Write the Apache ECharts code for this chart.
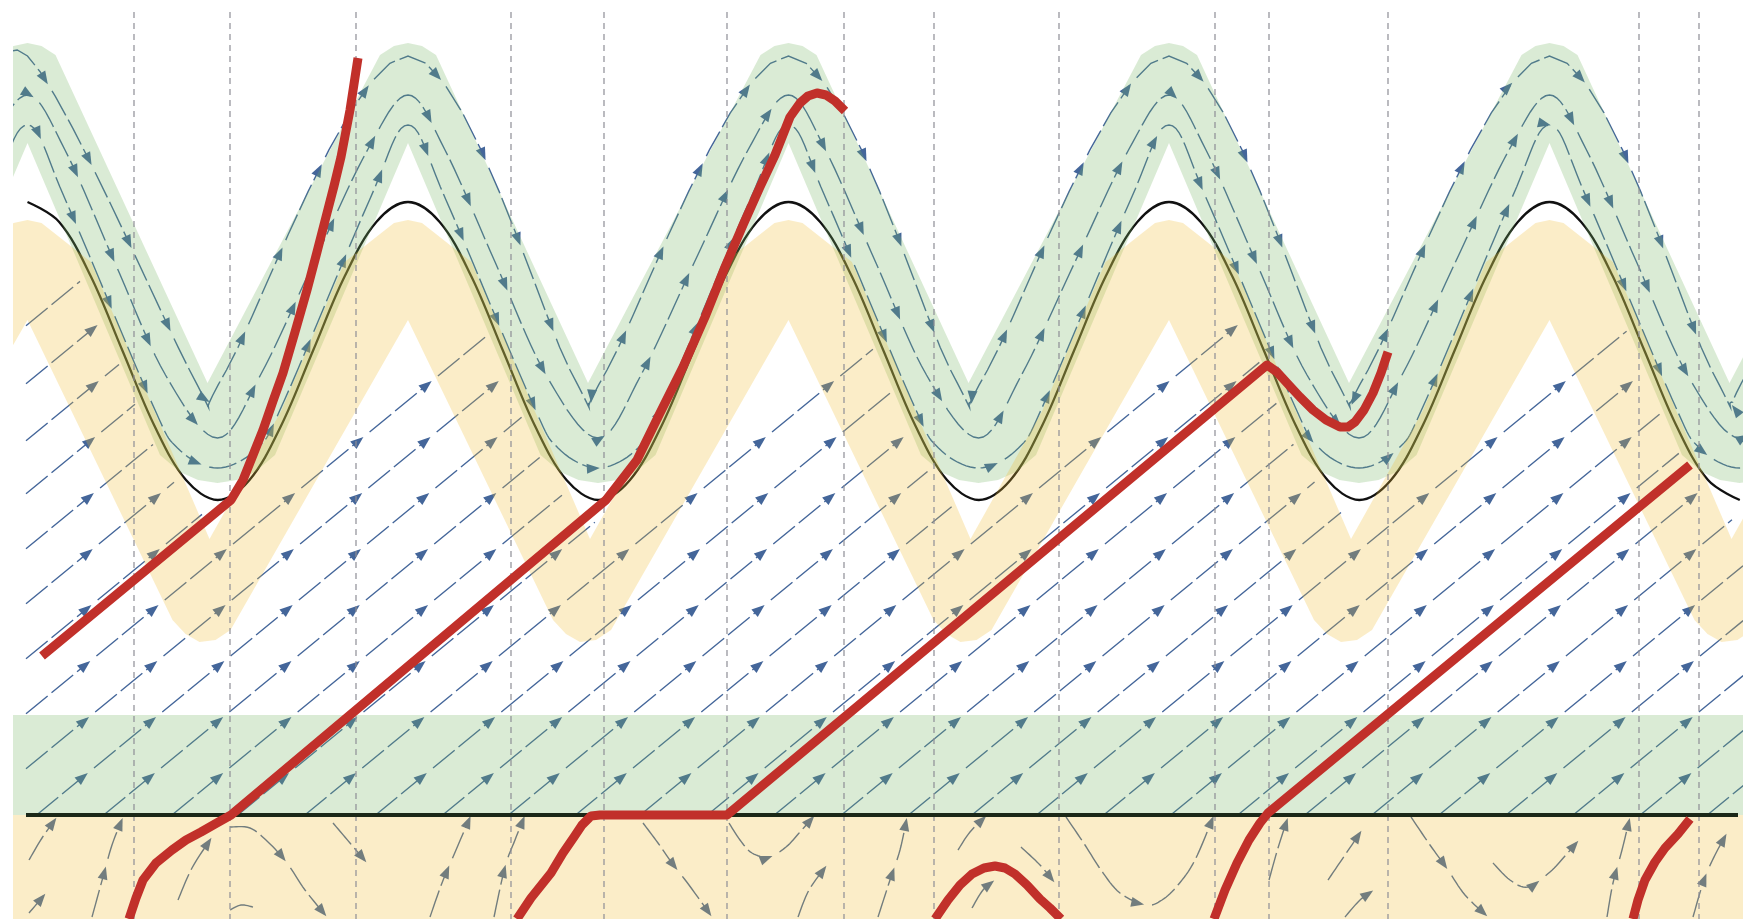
<!DOCTYPE html>
<html>
<head>
<meta charset="utf-8">
<script src="https://cdn.jsdelivr.net/npm/echarts@6/dist/echarts.min.js"></script>
<style>
  html, body { margin: 0; padding: 0; background: #ffffff; }
  #chart { width: 1743px; height: 919px; }
</style>
</head>
<body>
<div id="chart"></div>
<script>
// ---------------------------------------------------------------
// Phase portrait: plot units run x 13..1743, y 0..919 (y downward)
// ---------------------------------------------------------------

// sinusoidal nullcline, sampled every 30 degrees of phase
const sineX = [27.5,59.2,90.9,122.6,154.3,186.0,217.8,249.5,281.2,312.9,344.6,376.3,
  408.0,439.7,471.4,503.1,534.8,566.5,598.3,630.0,661.7,693.4,725.1,756.8,
  788.5,820.2,851.9,883.6,915.3,947.0,978.8,1010.5,1042.2,1073.9,1105.6,1137.3,
  1169.0,1200.7,1232.4,1264.1,1295.8,1327.5,1359.3,1391.0,1422.7,1454.4,1486.1,1517.8,
  1549.5,1581.2,1612.9,1644.6,1676.3,1708.0,1739.8];
const sineY = [202,222,276.5,351,425.5,480,500,480,425.5,351,276.5,222,
  202,222,276.5,351,425.5,480,500,480,425.5,351,276.5,222,
  202,222,276.5,351,425.5,480,500,480,425.5,351,276.5,222,
  202,222,276.5,351,425.5,480,500,480,425.5,351,276.5,222,
  202,222,276.5,351,425.5,480,500];

// green wave band: upper and lower outlines
const greenTop = [[-173,383],[-0.5,55],[13.5,46],[27.5,43],[41.5,46],[55.5,55],[207.5,383],
  [380,55],[394,46],[408,43],[422,46],[436,55],[588,383],
  [760.5,55],[774.5,46],[788.5,43],[802.5,46],[816.5,55],[968.5,383],
  [1141,55],[1155,46],[1169,43],[1183,46],[1197,55],[1349,383],
  [1521.5,55],[1535.5,46],[1549.5,43],[1563.5,46],[1577.5,55],[1729.5,383],[1902,55]];
const greenBottom = [[-105.5,455],
  [27.5,143],[160,455],[180,472],[198,480],[217.5,483],[237,480],[255,472],[275,455],
  [408,143],[540.5,455],[560.5,472],[578.5,480],[598,483],[617.5,480],[635.5,472],[655.5,455],
  [788.5,143],[921,455],[941,472],[959,480],[978.5,483],[998,480],[1016,472],[1036,455],
  [1169,143],[1301.5,455],[1321.5,472],[1339.5,480],[1359,483],[1378.5,480],[1396.5,472],[1416.5,455],
  [1549.5,143],[1682,455],[1702,472],[1720,480],[1739.5,483],[1759,480],[1777,472],[1797,455]];

// yellow wave band: upper and lower outlines
const yellowTop = [[-67.6,336],[-35.9,262],[-0.5,234],[13.5,223],[27.5,220],[41.5,223],[55.5,234],
  [90.9,262],[122.6,336],[154.3,411],[209.5,539],[281.2,411],[312.9,336],[344.6,262],
  [380,234],[394,223],[408,220],[422,223],[436,234],
  [471.4,262],[503.1,336],[534.8,411],[590,539],[661.7,411],[693.4,336],[725.1,262],
  [760.5,234],[774.5,223],[788.5,220],[802.5,223],[816.5,234],
  [851.9,262],[883.6,336],[915.3,411],[970.5,539],[1042.2,411],[1073.9,336],[1105.6,262],
  [1141,234],[1155,223],[1169,220],[1183,223],[1197,234],
  [1232.4,262],[1264.1,336],[1295.8,411],[1351,539],[1422.7,411],[1454.4,336],[1486.1,262],
  [1521.5,234],[1535.5,223],[1549.5,220],[1563.5,223],[1577.5,234],
  [1612.9,262],[1644.6,336],[1676.3,411],[1731.5,539],[1803.2,411]];
const yellowBottom = [[-150,630],
  [27.5,320],[172.5,620],[185.5,634],[199.5,642],[215.5,640],[230.5,630],
  [408,320],[553,620],[566,634],[580,642],[596,640],[611,630],
  [788.5,320],[933.5,620],[946.5,634],[960.5,642],[976.5,640],[991.5,630],
  [1169,320],[1314,620],[1327,634],[1341,642],[1357,640],[1372,630],
  [1549.5,320],[1694.5,620],[1707.5,634],[1721.5,642],[1737.5,640],[1752.5,630],[1930,320]];

// streamlines carried along the green band (upper, middle, lower)
const bandStreamTop = [[-30,160],[27.5,56],[189.5,370],[209.5,402],[226.5,370],
  [408,56],[570,370],[590,402],[607,370],
  [788.5,56],[950.5,370],[970.5,402],[987.5,370],
  [1169,56],[1331,370],[1351,402],[1368,370],
  [1549.5,56],[1711.5,370],[1731.5,402],[1748.5,370],[1900,100]];
const bandStreamMid = [[-67,263],[-13,150],[27.5,95],[65,150],[115,263],[165.5,375],[217.5,438],[260.5,375],[313.5,263],[367.5,150],
  [408,95],[445,150],[495.5,263],[546,375],[598,438],[641,375],[694,263],[748,150],
  [788.5,95],[825.5,150],[876,263],[926.5,375],[978.5,438],[1021.5,375],[1074.5,263],[1128.5,150],
  [1169,95],[1206,150],[1256.5,263],[1307,375],[1359,438],[1402,375],[1455,263],[1509,150],
  [1549.5,95],[1586.5,150],[1637,263],[1687.5,375],[1739.5,438],[1782.5,375],[1835.5,263]];
const bandStreamLow = [[-96,400],[-11,200],[27.5,125],[65.5,200],[150.5,400],[177.5,448],[217.5,468],[257.5,448],[284.5,400],[369.5,200],
  [408,125],[446,200],[531,400],[558,448],[598,468],[638,448],[665,400],[750,200],
  [788.5,125],[826.5,200],[911.5,400],[938.5,448],[978.5,468],[1018.5,448],[1045.5,400],[1130.5,200],
  [1169,125],[1207,200],[1292,400],[1319,448],[1359,468],[1399,448],[1426,400],[1511,200],
  [1549.5,125],[1587.5,200],[1672.5,400],[1699.5,448],[1739.5,468],[1779.5,448],[1806.5,400]];

// flat shaded strips: [top, bottom, kind]
const strips = [[715, 815, 0], [815, 919, 1]];

// horizontal nullcline
const baseLine = [[26, 815], [1738, 815]];

// vertical guide lines
const guideX = [134, 230, 356, 511, 604, 727, 844, 934, 1059, 1215, 1269, 1388, 1639, 1699];

// trajectories
const trajA = [[42,656],[231,500],[243,480],[253,455],[263,430],[273,401],[283,373],[295,332],[307,290],[317,252],[327,213],[334,186],[341,157],[350,110],[358,58]];
const trajB = [[129,919],[136,898],[143,880],[156,863],[172,850],[186,840],[201,832],[215,824],[231,815],[606,500],[620,482],[637,460],[660,413],[683,367],[705,317],[725,267],[743,225],[760,187],[775,155],[790,117],[800,103],[808,96],[817,93],[826,95],[835,101],[845,111]];
const trajC = [[517,919],[531,898],[551,873],[563,853],[574,837],[582,825],[591,816],[600,815],[727,815],[1267,365],[1277,372],[1287,383],[1300,397],[1313,410],[1326,420],[1340,427],[1348,427],[1355,422],[1364,410],[1373,393],[1381,373],[1388,352]];
const trajD = [[935,919],[948,900],[960,885],[972,874],[984,868],[995,866],[1005,868],[1015,874],[1027,885],[1040,899],[1050,908],[1061,919]];
const trajE = [[1214,919],[1225,890],[1237,863],[1249,840],[1260,823],[1268,813],[1690,465]];
const trajF = [[1633,919],[1638,900],[1645,880],[1655,862],[1665,848],[1678,834],[1690,819]];

// uniform flow below the nullcline: direction and line intercepts (y at x = 0)
const fieldSlope = 0.82;
const fieldIntercepts = [347,405,462,515,570,625,680,735,790,845,900,956,1010,1065,1123,1178,1232,1287,1340,1395,
  1450,1505,1560,1612,1665,1720,1775,1830,1885,1940,1995,2050,2105,2160,2215];

// streamlines under the horizontal nullcline
const lowerStreams = [
  [[29,860],[42,838],[57,817]],
  [[29,913],[46,893]],
  [[92,917],[103,877],[112,845],[123,817]],
  [[178,900],[192,868],[212,837]],
  [[230,827],[250,828],[268,842],[287,863],[305,890],[327,917]],
  [[230,910],[241,905],[253,907]],
  [[333,823],[350,843],[367,863]],
  [[430,917],[442,883],[456,850],[471,815]],
  [[494,917],[505,867],[515,840],[525,815]],
  [[643,823],[658,843],[672,863],[689,885],[712,917]],
  [[729,823],[740,840],[752,853],[769,857],[786,847],[800,832],[815,815]],
  [[798,917],[809,890],[827,865]],
  [[878,917],[890,880],[900,850],[907,817]],
  [[958,850],[970,832],[987,815]],
  [[1021,847],[1040,865],[1055,883]],
  [[972,908],[983,890],[995,880]],
  [[1066,817],[1085,845],[1101,870],[1120,893],[1146,905],[1162,900],[1178,885],[1195,860],[1214,815]],
  [[1269,880],[1278,848],[1288,817]],
  [[1328,880],[1345,855],[1362,830]],
  [[1345,917],[1360,900],[1374,890]],
  [[1411,817],[1430,845],[1448,870],[1465,895],[1488,917]],
  [[1493,863],[1510,880],[1528,887],[1550,872],[1565,856],[1579,840]],
  [[1607,917],[1613,883],[1622,850],[1630,817]],
  [[1693,917],[1704,880],[1715,855],[1727,833]]
];

// ---------------------------------------------------------------
// drawing helpers
// ---------------------------------------------------------------
const ARROW = '#44669a';
const GREEN_FILL = 'rgba(120,180,100,0.27)';
const YELLOW_FILL = 'rgba(240,190,50,0.27)';
const RED = '#c1302a';

const sineCurve = sineX.map((x, i) => [x, sineY[i]]);
const bandStreams = [bandStreamTop, bandStreamMid, bandStreamLow];
const waveBands = [[greenTop, greenBottom, GREEN_FILL], [yellowTop, yellowBottom, YELLOW_FILL]];

function sineAt(x) {
  for (let i = 1; i < sineCurve.length; i++) {
    const a = sineCurve[i - 1], b = sineCurve[i];
    if (x <= b[0]) {
      const t = (x - a[0]) / (b[0] - a[0]);
      return a[1] + (b[1] - a[1]) * Math.max(0, Math.min(1, t));
    }
  }
  return sineCurve[sineCurve.length - 1][1];
}

function cumLen(poly) {
  const c = [0];
  for (let i = 1; i < poly.length; i++) {
    c.push(c[i - 1] + Math.hypot(poly[i][0] - poly[i - 1][0], poly[i][1] - poly[i - 1][1]));
  }
  return c;
}
function at(poly, cum, s) {
  s = Math.max(0, Math.min(s, cum[cum.length - 1]));
  let i = 1;
  while (i < cum.length - 1 && cum[i] < s) i++;
  const seg = (cum[i] - cum[i - 1]) || 1, t = (s - cum[i - 1]) / seg;
  const a = poly[i - 1], b = poly[i];
  return { x: a[0] + (b[0] - a[0]) * t, y: a[1] + (b[1] - a[1]) * t, ang: Math.atan2(b[1] - a[1], b[0] - a[0]) };
}
function slice(poly, cum, s0, s1) {
  const out = [];
  const p0 = at(poly, cum, s0);
  out.push([p0.x, p0.y]);
  for (let i = 0; i < cum.length; i++) if (cum[i] > s0 && cum[i] < s1) out.push(poly[i]);
  const p1 = at(poly, cum, s1);
  out.push([p1.x, p1.y]);
  return out;
}
function arrowHead(p, color) {
  const L = 13, W = 5, c = Math.cos(p.ang), s = Math.sin(p.ang);
  const bx = p.x - L * c, by = p.y - L * s;
  return {
    type: 'polygon',
    shape: { points: [[p.x, p.y], [bx - W * s, by + W * c], [bx + W * s, by - W * c]] },
    style: { fill: color }
  };
}
function streamGroup(poly, heads, color) {
  const cum = cumLen(poly), total = cum[cum.length - 1];
  const kids = [];
  const st = { stroke: color, lineWidth: 1.4, fill: null, lineDash: [28, 5] };
  let from = 0;
  heads.forEach(h => {
    if (h - from > 6) kids.push({ type: 'polyline', shape: { points: slice(poly, cum, from, h - 3) }, style: st });
    kids.push(arrowHead(at(poly, cum, h), color));
    from = h + 8;
  });
  if (total - from > 6) kids.push({ type: 'polyline', shape: { points: slice(poly, cum, from, total) }, style: st });
  return { type: 'group', children: kids };
}
function catmull(pts, steps) {
  const out = [];
  for (let i = 0; i < pts.length - 1; i++) {
    const p0 = pts[Math.max(i - 1, 0)], p1 = pts[i], p2 = pts[i + 1], p3 = pts[Math.min(i + 2, pts.length - 1)];
    for (let k = 0; k < steps; k++) {
      const t = k / steps, t2 = t * t, t3 = t2 * t;
      const f = j => 0.5 * ((2 * p1[j]) + (-p0[j] + p2[j]) * t + (2 * p0[j] - 5 * p1[j] + 4 * p2[j] - p3[j]) * t2 + (-p0[j] + 3 * p1[j] - 3 * p2[j] + p3[j]) * t3);
      out.push([f(0), f(1)]);
    }
  }
  out.push(pts[pts.length - 1]);
  return out;
}

// straight streamline for intercept c: from the left edge or the horizontal nullcline up to the sinusoid
function straightStream(c) {
  let x0 = 26;
  if (c - fieldSlope * x0 > 815) x0 = (c - 815) / fieldSlope;
  if (x0 >= 1743) return null;
  let x = x0;
  while (x < 1743) {
    const y = c - fieldSlope * x;
    if (y < sineAt(x) + 25 || y < 0) break;
    x += 1;
  }
  if (x - x0 < 8) return null;
  return [[x0, c - fieldSlope * x0], [x, c - fieldSlope * x]];
}

const ROW_Y0 = 493, ROW_STEP = 56;

const option = {
  animation: false,
  backgroundColor: '#ffffff',
  grid: { left: 13, right: 0, top: 0, bottom: 0 },
  xAxis: { type: 'value', min: 13, max: 1743, show: false },
  yAxis: { type: 'value', min: 0, max: 919, inverse: true, show: false },
  series: [
    {
      name: 'uniform flow', type: 'custom', z: 2, clip: true, silent: true,
      data: fieldIntercepts.map((_, i) => [i]),
      renderItem: (params, api) => {
        const seg = straightStream(fieldIntercepts[api.value(0)]);
        if (!seg) return null;
        const p0 = api.coord(seg[0]), p1 = api.coord(seg[1]);
        const len = Math.hypot(p1[0] - p0[0], p1[1] - p0[1]);
        const heads = [];
        for (let k = -12; k < 12; k++) {
          const ry = ROW_Y0 + k * ROW_STEP;
          if (ry < seg[0][1] - 18 && ry > seg[1][1]) heads.push((seg[0][1] - ry) / (seg[0][1] - seg[1][1]) * len);
        }
        heads.sort((a, b) => a - b);
        return streamGroup([p0, p1], heads, ARROW);
      }
    },
    {
      name: 'band flow', type: 'custom', z: 2, clip: true, silent: true,
      data: [[0], [1], [2]],
      renderItem: (params, api) => {
        const i = api.value(0);
        const poly = catmull(bandStreams[i].map(p => api.coord(p)), 10);
        const total = cumLen(poly).slice(-1)[0];
        const heads = [];
        for (let s = 80 + i * 30; s < total; s += 92) heads.push(s);
        return streamGroup(poly, heads, ARROW);
      }
    },
    {
      name: 'lower flow', type: 'custom', z: 2, clip: true, silent: true,
      data: lowerStreams.map((_, i) => [i]),
      renderItem: (params, api) => {
        const src = lowerStreams[api.value(0)];
        const poly = catmull(src.map(p => api.coord(p)), 8);
        const total = cumLen(poly).slice(-1)[0];
        const heads = total > 90 ? [total * 0.5, total - 1] : (total > 25 ? [total - 1] : []);
        return streamGroup(poly, heads, ARROW);
      }
    },
    {
      name: 'sinusoid', type: 'line', z: 3, data: sineCurve, smooth: 0.35, symbol: 'none', silent: true,
      lineStyle: { color: '#111111', width: 2.3 }
    },
    {
      name: 'flat strips', type: 'custom', z: 4, clip: true, silent: true,
      data: strips,
      renderItem: (params, api) => {
        const a = api.coord([13, api.value(0)]), b = api.coord([1743, api.value(1)]);
        return {
          type: 'rect',
          shape: { x: a[0], y: a[1], width: b[0] - a[0], height: b[1] - a[1] },
          style: { fill: api.value(2) === 0 ? GREEN_FILL : YELLOW_FILL }
        };
      }
    },
    {
      name: 'wave bands', type: 'custom', z: 4, clip: true, silent: true,
      data: [[0], [1]],
      renderItem: (params, api) => {
        const band = waveBands[api.value(0)];
        const pts = band[0].map(p => api.coord(p)).concat(band[1].slice().reverse().map(p => api.coord(p)));
        return { type: 'polygon', shape: { points: pts }, style: { fill: band[2] } };
      }
    },
    {
      name: 'guides', type: 'custom', z: 5, clip: true, silent: true,
      data: guideX.map(x => [x]),
      renderItem: (params, api) => {
        const a = api.coord([api.value(0), 12]), b = api.coord([api.value(0), 919]);
        return {
          type: 'line',
          shape: { x1: a[0], y1: a[1], x2: b[0], y2: b[1] },
          style: { stroke: '#8e8e96', lineWidth: 1.2, lineDash: [6, 5] }
        };
      }
    },
    {
      name: 'horizontal nullcline', type: 'line', z: 5, data: baseLine, symbol: 'none', silent: true,
      lineStyle: { color: '#1b2818', width: 4 }
    }
  ].concat([trajA, trajB, trajC, trajD, trajE, trajF].map((d, i) => ({
    name: 'trajectory ' + (i + 1), type: 'line', z: 6, data: d, symbol: 'none', silent: true,
    lineStyle: { color: RED, width: 9, join: 'round', cap: 'butt' }
  })))
};

const chart = echarts.init(document.getElementById('chart'), null, { renderer: 'canvas' });
chart.setOption(option);
</script>
</body>
</html>
